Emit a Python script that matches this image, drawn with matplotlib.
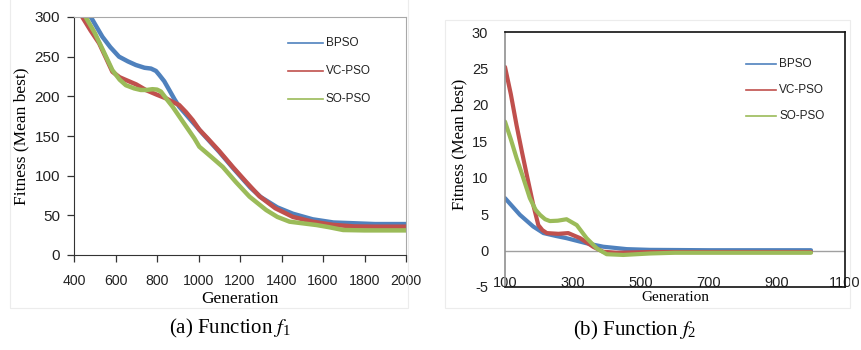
import numpy as np
import matplotlib
matplotlib.use("Agg")
import matplotlib.pyplot as plt
from matplotlib.patches import Rectangle

plt.rcParams['mathtext.fontset'] = 'stix'
plt.rcParams['axes.unicode_minus'] = False

# f1 convergence (generation vs mean best fitness)
gen1_b = [470, 481, 510, 537, 575, 617, 660, 698, 740, 771, 795, 811, 835, 859, 885, 907,
          960, 1020, 1100, 1165, 1250, 1300, 1380, 1455, 1550, 1650, 1750, 1850, 2000]
bpso1 = [315, 300, 287, 275, 262, 250, 244, 239.5, 236, 235, 232, 227, 219, 208, 196, 187,
         171, 153, 130, 110, 85, 73, 60, 52, 45, 41, 40, 39, 39]
gen1_v = [440, 480, 521, 555, 585, 620, 650, 700, 746, 800, 843, 875, 907, 940, 972, 1004,
          1044, 1100, 1165, 1230, 1294, 1370, 1455, 1550, 1648, 1750, 1850, 2000]
vcpso1 = [300, 283, 267, 248, 231, 224, 220.6, 215, 208, 202, 197.5, 193, 189, 180, 170, 158,
          147, 131, 111, 92, 74, 59, 48, 42, 38, 36, 35.7, 35.7]
gen1_s = [456, 500, 540, 585, 620, 650, 690, 722, 750, 778, 800, 819, 845, 875, 930, 980,
          1004, 1060, 1117, 1180, 1246, 1326, 1380, 1439, 1500, 1568, 1630, 1697, 1800, 2000]
sopso1 = [300, 280, 258, 233, 221, 214, 210, 208, 208, 209, 208.5, 206, 197, 187, 166, 147,
          136.5, 124, 111, 92, 73.5, 56.7, 48, 42, 40, 37.8, 35, 31.5, 31, 31]

# f2 convergence
gen2_b = [100, 144, 183, 213, 250, 281, 340, 389, 458, 526, 600, 700, 800, 900, 1000]
bpso2 = [7.2, 4.9, 3.3, 2.4, 2.0, 1.7, 1.0, 0.53, 0.2, 0.1, 0.08, 0.05, 0.05, 0.05, 0.05]
gen2_v = [100, 117, 134, 150, 164, 183, 198, 210, 223, 257, 286, 321, 360, 389, 428, 526, 600, 800, 1000]
vcpso2 = [25.2, 21.5, 17.2, 13.5, 10.4, 6.3, 3.5, 2.8, 2.4, 2.3, 2.4, 1.7, 0.5, -0.16, -0.3, -0.2, -0.2, -0.2, -0.2]
gen2_s = [100, 117, 134, 150, 173, 190, 203, 218, 232, 255, 281, 311, 340, 370, 399, 448, 526, 600, 800, 1000]
sopso2 = [17.7, 15.3, 12.7, 10.5, 7.2, 5.6, 4.9, 4.3, 4.05, 4.1, 4.3, 3.5, 1.7, 0.3, -0.5, -0.6, -0.4, -0.3, -0.3, -0.3]

names = ["BPSO", "VC-PSO", "SO-PSO"]
colors = ["#4F81BD", "#C0504D", "#9BBB59"]

serif = "Liberation Serif"
sans = "Liberation Sans"

fig = plt.figure(figsize=(8.61, 3.5), dpi=100)

# light chart-area frames
fig.patches.append(Rectangle((10 / 861, 42 / 350), 398 / 861, 310 / 350, transform=fig.transFigure,
                             fill=False, ec="#ececec", lw=0.8))
fig.patches.append(Rectangle((445 / 861, 42 / 350), 405 / 861, 288 / 350, transform=fig.transFigure,
                             fill=False, ec="#ececec", lw=0.8))

# ---- panel (a)
ax1 = fig.add_axes([74 / 861, 95 / 350, 332 / 861, 238 / 350])
for x, y, c in zip([gen1_b, gen1_v, gen1_s], [bpso1, vcpso1, sopso1], colors):
    ax1.plot(x, y, color=c, lw=3.2, solid_joinstyle="round", solid_capstyle="round")
ax1.set_xlim(400, 2000)
ax1.set_ylim(0, 300)
ax1.set_xticks(np.arange(400, 2001, 200))
ax1.set_yticks(np.arange(0, 301, 50))
ax1.spines["top"].set_color("#a8a8a8")
ax1.spines["right"].set_color("#a8a8a8")
ax1.spines["left"].set_color("#333333")
ax1.spines["bottom"].set_color("#333333")
ax1.tick_params(length=5, width=0.9, color="#333333", labelcolor="#222222")
ax1.tick_params(axis="x", labelsize=10.2, pad=9)
ax1.tick_params(axis="y", labelsize=11, pad=5)
for lab in ax1.get_xticklabels() + ax1.get_yticklabels():
    lab.set_fontfamily(sans)
ax1.set_xlabel("Generation", fontfamily=serif, fontsize=12.5, labelpad=1.5)
ax1.set_ylabel("Fitness (Mean best)", fontfamily=serif, fontsize=12.5, labelpad=4)
for i, (c, n) in enumerate(zip(colors, names)):
    yy = 43 + 28 * i
    fig.add_artist(plt.Line2D([288 / 861, 323 / 861], [1 - yy / 350] * 2, color=c, lw=1.2))
    fig.text(326 / 861, 1 - yy / 350, n, fontfamily=sans, fontsize=8.5, va="center", color="#222222")
fig.text(230 / 861, 1 - 328 / 350, r"(a) Function $f_{\mathregular{1}}$", fontfamily=serif,
         fontsize=15, ha="center", va="center")

# ---- panel (b)
ax2 = fig.add_axes([505 / 861, 63 / 350, 340 / 861, 255 / 350])
for x, y, c in zip([gen2_b, gen2_v, gen2_s], [bpso2, vcpso2, sopso2], colors):
    ax2.plot(x, y, color=c, lw=3, solid_joinstyle="round", solid_capstyle="round")
ax2.axhline(0, color="#a0a0a0", lw=1, zorder=0)
ax2.set_xlim(100, 1100)
ax2.set_ylim(-5, 30)
ax2.set_xticks(np.arange(100, 1101, 200))
ax2.set_yticks(np.arange(-5, 31, 5))
for s in ax2.spines.values():
    s.set_color("#111111")
    s.set_linewidth(1.2)
ax2.spines["left"].set_color("#909090")
ax2.tick_params(axis="y", length=0, labelsize=10.5, labelcolor="#222222", pad=12)
ax2.tick_params(axis="x", length=0, labelsize=10.5, labelcolor="#222222", pad=-8)
for lab in ax2.get_xticklabels() + ax2.get_yticklabels():
    lab.set_fontfamily(sans)
ax2.set_xlabel("Generation", fontfamily=serif, fontsize=11, labelpad=1)
ax2.set_ylabel("Fitness (Mean best)", fontfamily=serif, fontsize=12)
ax2.yaxis.set_label_coords(-0.11, 0.56)
for i, (c, n) in enumerate(zip(colors, names)):
    yy = 64 + 26 * i
    fig.add_artist(plt.Line2D([746 / 861, 776 / 861], [1 - yy / 350] * 2, color=c, lw=1.2))
    fig.text(779 / 861, 1 - yy / 350, n, fontfamily=sans, fontsize=8.5, va="center", color="#222222")
fig.text(635 / 861, 1 - 330 / 350, r"(b) Function $f_{\mathregular{2}}$", fontfamily=serif,
         fontsize=15, ha="center", va="center")

fig.savefig("out.png", dpi=100)
